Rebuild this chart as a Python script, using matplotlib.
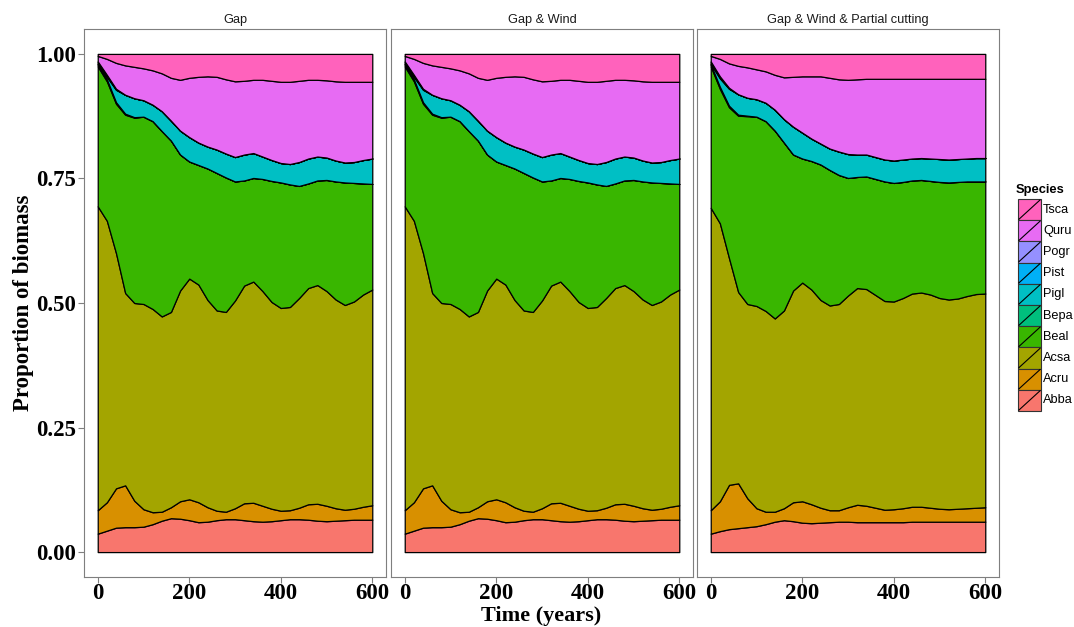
import matplotlib
matplotlib.use("Agg")
import matplotlib.pyplot as plt
from matplotlib.patches import Rectangle
from matplotlib.lines import Line2D
import numpy as np

# ---------------- data ----------------
years = list(range(0, 601, 20))
species = ["Abba", "Acru", "Acsa", "Beal", "Bepa", "Pigl", "Pist", "Pogr", "Quru", "Tsca"]
colors = ["#F8766D", "#D89000", "#A3A500", "#39B600", "#00BF7D",
          "#00BFC4", "#00B0F6", "#9590FF", "#E76BF3", "#FF62BC"]
panel_titles = ["Gap", "Gap & Wind", "Gap & Wind & Partial cutting"]

# Panel 1: Gap
gap_abba = [.037,.043,.049,.050,.050,.051,.056,.063,.068,.067,.064,.060,.061,.064,.066,.066,
            .064,.062,.061,.062,.064,.066,.066,.065,.063,.062,.063,.064,.065,.065,.065]
gap_acru = [.047,.057,.079,.084,.053,.035,.024,.018,.022,.035,.042,.040,.029,.019,.015,.022,
            .034,.037,.032,.025,.019,.018,.023,.031,.034,.031,.025,.021,.022,.026,.029]
gap_acsa = [.610,.565,.472,.386,.397,.412,.408,.392,.392,.423,.443,.437,.416,.402,.401,.417,
            .437,.444,.431,.415,.407,.408,.421,.434,.439,.431,.419,.411,.416,.426,.433]
gap_beal = [.281,.280,.300,.358,.372,.376,.377,.372,.344,.273,.235,.240,.264,.276,.270,.239,
            .211,.208,.225,.243,.252,.246,.225,.210,.210,.223,.237,.246,.238,.223,.212]
gap_bepa = [.004,.004,.003,.002,.001] + [0.0] * 26
gap_pigl = [.001,.005,.025,.038,.038,.033,.033,.040,.040,.048,.049,.045,.044,.047,.048,.049,
            .052,.050,.045,.042,.039,.041,.048,.050,.048,.045,.042,.040,.042,.047,.051]
gap_pist = [.003,.002,.001] + [0.0] * 28
gap_pogr = [.002,.002,.001] + [0.0] * 28
gap_quru = [.011,.032,.052,.059,.063,.064,.069,.076,.086,.102,.119,.132,.141,.146,.149,.152,
            .148,.147,.154,.159,.163,.165,.163,.158,.154,.155,.159,.162,.161,.157,.154]
gap_tsca = [.004,.010,.018,.023,.026,.029,.033,.039,.048,.052,.048,.046,.045,.046,.051,.055,
            .054,.052,.052,.054,.056,.056,.054,.052,.052,.053,.055,.056,.056,.056,.056]

# Panel 2: Gap & Wind
wind_abba = list(gap_abba)
wind_acru = list(gap_acru)
wind_acsa = list(gap_acsa)
wind_beal = list(gap_beal)
wind_bepa = list(gap_bepa)
wind_pigl = list(gap_pigl)
wind_pist = list(gap_pist)
wind_pogr = list(gap_pogr)
wind_quru = list(gap_quru)
wind_tsca = list(gap_tsca)

# Panel 3: Gap & Wind & Partial cutting
cut_abba = [.037,.042,.046,.048,.050,.052,.056,.061,.064,.062,.059,.058,.059,.060,.061,.061,
            .060,.060,.060,.060,.060,.060,.061,.061,.061,.061,.061,.061,.061,.061,.061]
cut_acru = [.047,.060,.089,.090,.058,.036,.025,.020,.024,.038,.043,.038,.030,.024,.023,.029,
            .035,.033,.029,.025,.026,.028,.030,.030,.028,.026,.025,.026,.027,.028,.029]
cut_acsa = [.607,.558,.455,.384,.390,.406,.403,.388,.397,.425,.439,.431,.417,.411,.414,.425,
            .435,.435,.427,.419,.417,.422,.428,.430,.428,.423,.421,.422,.426,.429,.429]
cut_beal = [.284,.270,.303,.354,.377,.380,.381,.377,.337,.273,.249,.258,.272,.272,.259,.236,
            .223,.226,.233,.240,.238,.233,.227,.226,.228,.233,.235,.234,.230,.226,.225]
cut_bepa = [.004,.004,.003,.002,.001] + [0.0] * 26
cut_pigl = [.001,.017,.034,.041,.036,.035,.037,.042,.047,.056,.052,.045,.042,.043,.047,.048,
            .045,.044,.044,.044,.045,.045,.044,.044,.045,.046,.046,.046,.046,.047,.047]
cut_pist = [.003,.002,.001] + [0.0] * 28
cut_pogr = [.002,.002,.001] + [0.0] * 28
cut_quru = [.011,.035,.049,.057,.061,.060,.063,.070,.084,.100,.113,.125,.135,.142,.145,.149,
            .151,.152,.157,.162,.164,.162,.160,.159,.160,.161,.162,.161,.160,.159,.159]
cut_tsca = [.004,.010,.019,.024,.027,.031,.035,.042,.047,.046,.045,.045,.045,.048,.051,.052,
            .051,.050] + [.050] * 13

panels = [
    [gap_abba, gap_acru, gap_acsa, gap_beal, gap_bepa, gap_pigl, gap_pist, gap_pogr, gap_quru, gap_tsca],
    [wind_abba, wind_acru, wind_acsa, wind_beal, wind_bepa, wind_pigl, wind_pist, wind_pogr, wind_quru, wind_tsca],
    [cut_abba, cut_acru, cut_acsa, cut_beal, cut_bepa, cut_pigl, cut_pist, cut_pogr, cut_quru, cut_tsca],
]
xticks = [0, 200, 400, 600]
yticks = [0.00, 0.25, 0.50, 0.75, 1.00]
ytick_labels = ["0.00", "0.25", "0.50", "0.75", "1.00"]

# ---------------- figure ----------------
W, H = 1074, 627
fig = plt.figure(figsize=(W / 100, H / 100), dpi=100)
serif = ["Liberation Serif", "DejaVu Serif"]
sans = ["Liberation Sans", "DejaVu Sans"]
grey = "#7F7F7F"
big = 16.5

lefts = [84, 391, 697]
pw, ptop, pbot = 302, 29, 577
for i, (left, series) in enumerate(zip(lefts, panels)):
    ax = fig.add_axes([left / W, (H - pbot) / H, pw / W, (pbot - ptop) / H])
    ax.stackplot(years, *[np.array(s) for s in series], colors=colors,
                 edgecolor="black", linewidth=0.9)
    ax.set_xlim(-30, 630)
    ax.set_ylim(-0.05, 1.05)
    for sp in ax.spines.values():
        sp.set_color(grey)
        sp.set_linewidth(0.8)
    ax.set_xticks(xticks)
    ax.set_xticklabels([str(x) for x in xticks], fontfamily=serif, fontweight="bold", fontsize=big)
    ax.tick_params(axis="x", direction="out", length=4, width=0.8, color=grey, pad=0.5)
    ax.tick_params(axis="y", direction="out", length=4, width=0.8, color=grey, pad=2)
    if i == 0:
        ax.set_yticks(yticks)
        ax.set_yticklabels(ytick_labels, fontfamily=serif, fontweight="bold", fontsize=big)
    else:
        ax.set_yticks([])
    ax.text(0.5, 1.006, panel_titles[i], transform=ax.transAxes, ha="center", va="bottom",
            fontfamily=sans, fontsize=9.2, color="#1a1a1a")

fig.text(541 / W, 1 - 626 / H, "Time (years)", ha="center", va="bottom",
         fontfamily=serif, fontweight="bold", fontsize=16)
fig.text(24 / W, 1 - 303 / H, "Proportion of biomass", ha="center", va="center",
         rotation=90, fontfamily=serif, fontweight="bold", fontsize=big)

# ---------------- legend ----------------
lax = fig.add_axes([0, 0, 1, 1])
lax.set_xlim(0, W)
lax.set_ylim(H, 0)
lax.axis("off")
lax.text(1016, 190, "Species", ha="left", va="center", fontfamily=sans,
         fontweight="bold", fontsize=9.3)
kx, kw, ky0, kh = 1018, 23, 199, 21.2
for j, (name, col) in enumerate(zip(species[::-1], colors[::-1])):
    y0 = ky0 + j * kh
    lax.add_patch(Rectangle((kx, y0), kw, kh, facecolor=col, edgecolor="#333333", linewidth=0.8))
    lax.add_line(Line2D([kx + 1, kx + kw - 1], [y0 + kh - 1, y0 + 1], color="black", linewidth=0.8))
    lax.text(kx + kw + 2, y0 + kh / 2, name, ha="left", va="center", fontfamily=sans, fontsize=9.2)

fig.savefig("out.png", dpi=100)
